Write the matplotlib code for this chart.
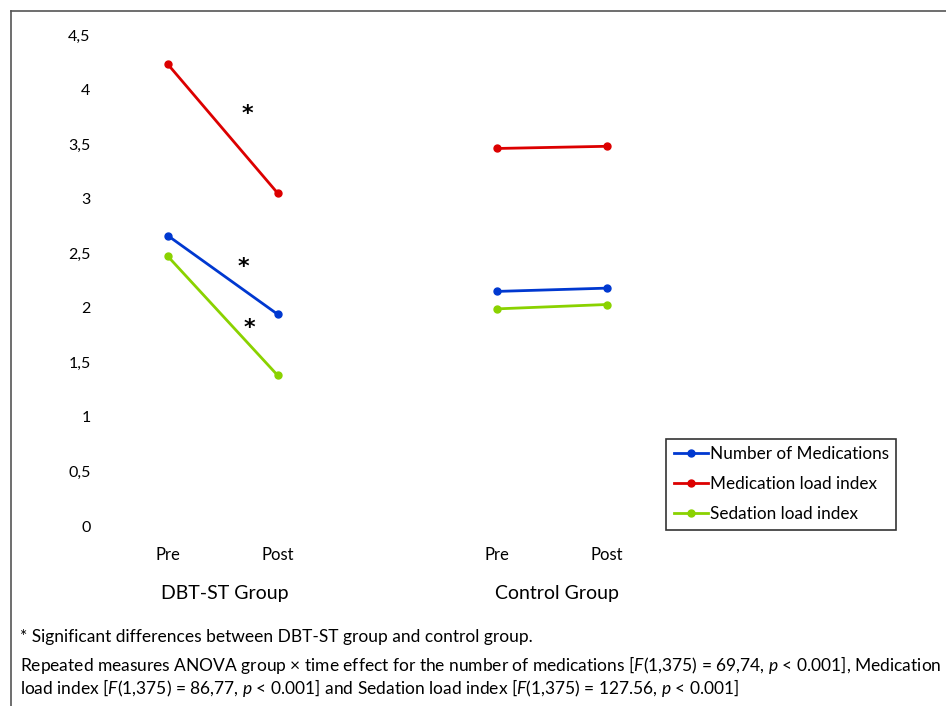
import matplotlib
matplotlib.use('Agg')
import matplotlib.pyplot as plt
from matplotlib.lines import Line2D

plt.rcParams['font.family'] = ['Lato', 'DejaVu Sans']
plt.rcParams['mathtext.fontset'] = 'custom'
plt.rcParams['mathtext.rm'] = 'Lato'
plt.rcParams['mathtext.it'] = 'Lato:italic'

# data
time_labels = ['Pre', 'Post', 'Pre', 'Post']
groups = ['DBT-ST Group', 'Control Group']
series_names = ['Number of Medications', 'Medication load index', 'Sedation load index']
dbt_number = [2.66, 1.94]
dbt_medload = [4.23, 3.05]
dbt_sedation = [2.47, 1.38]
ctrl_number = [2.15, 2.18]
ctrl_medload = [3.46, 3.48]
ctrl_sedation = [1.99, 2.03]
y_ticks = [0, 0.5, 1, 1.5, 2, 2.5, 3, 3.5, 4, 4.5]

colors = ['#0038D0', '#DC0000', '#8AD200']

fig = plt.figure(figsize=(9.46, 7.06), dpi=100)
W, H = 946, 706

# outer frame (top and left edges visible)
fig.add_artist(Line2D([11 / W, 1], [1 - 11 / H, 1 - 11 / H], color='#555555', lw=1.2))
fig.add_artist(Line2D([11 / W, 11 / W], [0, 1 - 11 / H], color='#555555', lw=1.2))

# axes placed so that x=0 sits at pixel 168 and y runs 526 -> 35
px_unit = 109.7
left_px, right_px = 110, 940
ax = fig.add_axes([left_px / W, (H - 526) / H, (right_px - left_px) / W, (526 - 35) / H])
ax.set_xlim((left_px - 168) / px_unit, (right_px - 168) / px_unit)
ax.set_ylim(0, 4.5)

x_dbt = [0, 1]
x_ctrl = [3, 4]
dbt = [dbt_number, dbt_medload, dbt_sedation]
ctrl = [ctrl_number, ctrl_medload, ctrl_sedation]
for name, c, d, k in zip(series_names, colors, dbt, ctrl):
    ax.plot(x_dbt, d, color=c, lw=2, marker='o', ms=5, label=name)
    ax.plot(x_ctrl, k, color=c, lw=2, marker='o', ms=5)

# significance stars between pre and post for DBT-ST
star_x = [0.72, 0.69, 0.74]
star_y = [3.79, 2.39, 1.83]
for sx, sy in zip(star_x, star_y):
    ax.text(sx, sy, '*', fontsize=16, ha='center', va='center_baseline',
            family='DejaVu Sans', fontweight='bold')

for s in ax.spines.values():
    s.set_visible(False)
ax.set_yticks(y_ticks)
ax.set_yticklabels([f'{v:g}'.replace('.', ',') for v in y_ticks], fontsize=11.5)
ax.set_xticks(x_dbt + x_ctrl)
ax.set_xticklabels(time_labels, fontsize=12)
ax.tick_params(axis='y', length=0, pad=14)
ax.tick_params(axis='x', length=0, pad=15)

# group labels
for gx, g in zip([0.52, 3.55], groups):
    ax.text(gx, -0.62, g, fontsize=14, ha='center', va='center',
            transform=ax.transData, clip_on=False)

leg = ax.legend(loc='lower left', bbox_to_anchor=((666 - left_px) / (right_px - left_px), -0.008),
                fontsize=12.3, frameon=True, fancybox=False, edgecolor='black',
                handlelength=2.0, handletextpad=0.1, labelspacing=0.82, borderpad=0.45,
                borderaxespad=0)
leg.get_frame().set_linewidth(1.2)

fig.text(20 / W, 1 - 637 / H, '* Significant differences between DBT-ST group and control group.',
         fontsize=12.5, va='center')
fig.text(20 / W, 1 - 665 / H,
         r'Repeated measures ANOVA group $\times$ time effect for the number of medications '
         r'[$\mathit{F}$(1,375) = 69,74, $\mathit{p}$ < 0.001], Medication',
         fontsize=12.5, va='center')
fig.text(20 / W, 1 - 688 / H,
         r'load index [$\mathit{F}$(1,375) = 86,77, $\mathit{p}$ < 0.001] and Sedation load index '
         r'[$\mathit{F}$(1,375) = 127.56, $\mathit{p}$ < 0.001]',
         fontsize=12.5, va='center')

fig.savefig('out.png', dpi=100)
